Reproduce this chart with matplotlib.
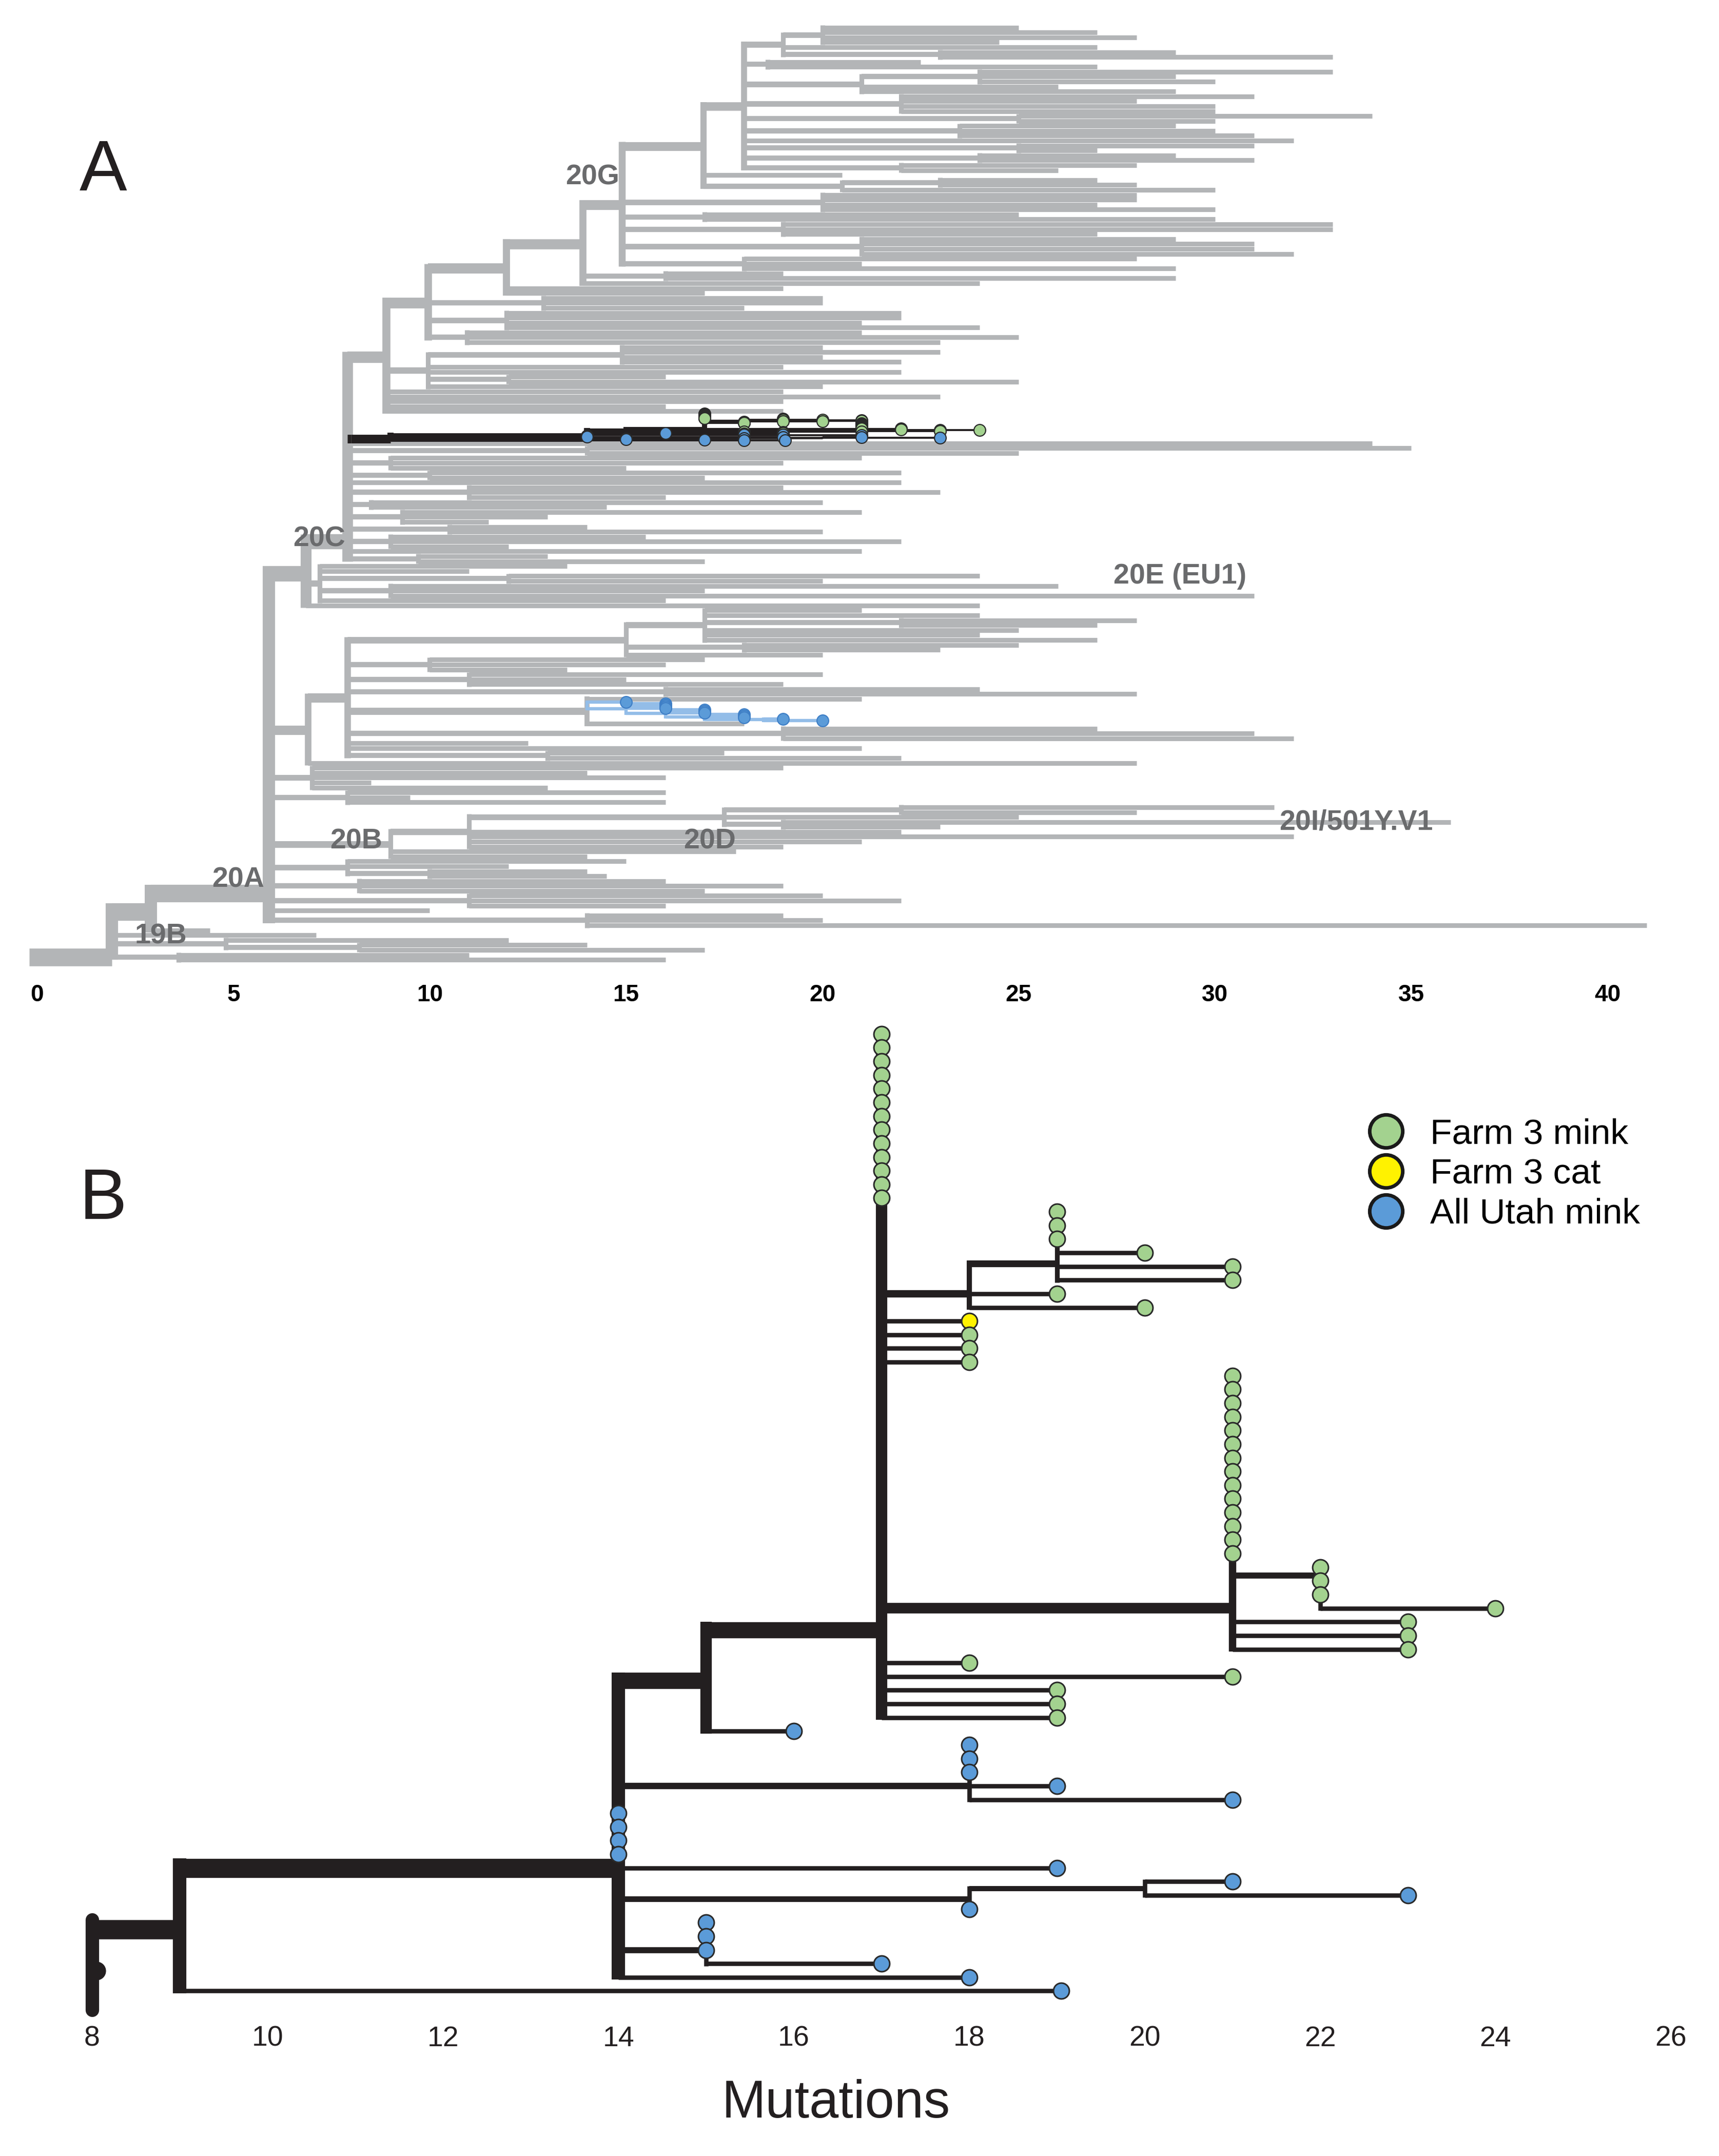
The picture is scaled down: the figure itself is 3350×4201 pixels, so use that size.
import re
import matplotlib
matplotlib.use('Agg')
import matplotlib.pyplot as plt
from matplotlib.collections import LineCollection
from matplotlib.lines import Line2D

plt.rcParams['font.family'] = ['Liberation Sans', 'DejaVu Sans']
NARROW = ['Liberation Sans Narrow', 'Liberation Sans', 'DejaVu Sans']

# ------------------------------------------------------------------ data
# Tree notation: a tip is its position in mutations (+ host code g/y/b);
# an internal node is (children)@mutations ; "~k" = node level with child k.

HOST_CODES = ['g', 'y', 'b']
HOST_LABELS = ['Farm 3 mink', 'Farm 3 cat', 'All Utah mink']
HOST_COLORS = ['#a3d28f', '#fff200', '#5b9bd8']

# ---- Panel B : Utah mink subtree
B_N19 = "(19g,19g,19g,20g,21g,21g)@19~3.8"
B_N18C = "(" + B_N19 + ",19g,20g)@18~1"
B_N22 = "(22g,22g,22g,24g)@22~0.6"
B_N21 = ("(21g,21g,21g,21g,21g,21g,21g,21g,21g,21g,21g,21g,21g,21g,"
         + B_N22 + ",23g,23g,23g)@21~14.7")
B_N17 = ("(17g,17g,17g,17g,17g,17g,17g,17g,17g,17g,17g,17g,17g,"
         + B_N18C + ",18y,18g,18g,18g," + B_N21
         + ",18g,21g,19g,19g,19g)@17~18.4")
B_N15 = "(" + B_N17 + ",16b)@15"
B_N18A = "(18b,18b,18b,19b,21b)@18~3"
B_N20 = "(21b,23b)@20"
B_N18B = "(" + B_N20 + ",18b)@18"
B_N15B = "(15b,15b,15b,17b)@15~2"
B_N14 = ("(" + B_N15 + "," + B_N18A + ",14b,14b,14b,14b,19b,"
         + B_N18B + "," + B_N15B + ",18b)@14~6")
B_N9 = "(" + B_N14 + ",19.05b)@9"
B_ROOT = "(" + B_N9 + ")@8"

# ---- Panel A : global background tree (M = Utah mink subtree, U = second Utah cluster)
A_UTAH = "(15b,(16b,16b,16b,16b,(17b,17b,17b,(18b,18b,18b,(19b,20b)@18.5)@17)@16)@15)@14"
A_CROWN_20G = ("((((25,27,28,24.5)@20,27,(29,33)@23)@19,(22.5,27)@18.6,"
               "((33,29,30)@24,26,29)@21,(31,28,30,30)@22,(34,30)@25,(29,30,31)@23.5,32,"
               "(31,27)@25,(29,31)@24,(28,26)@22)@18,20.5,((27,28)@23,30)@20.5)@16.97")
A_20G = ("(" + A_CROWN_20G + ",(28,28,27,30)@20,(25,30)@17,(33,33,27)@19,"
         "(29,31,31,32)@21,(28,21,29)@18)@14.9")
A_N139 = "(" + A_20G + ",(19,29)@16,24)@13.9"
A_N1195 = "(" + A_N139 + ",19,17)@11.95"
A_N996A = "(" + A_N1195 + ",(20,20,18)@12.9,(22,22,21,24)@11.95,(21,25,23)@10.95)@9.96"
A_N996B = "((20,23,20,22)@14.9,19,22,(16,25)@12,20)@9.96"
A_N89 = "(" + A_N996A + "," + A_N996B + ",19,23,19,16,19)@8.9"
A_20C = ("(" + A_N89 + ",M,34,(35,25)@14,(21,19,15)@9,(22,17)@10,22,(19,23,16)@11,"
         "(20,14.5)@8.5,(21,13,11.5)@9.3,(14,20)@10.5,(15.5,22,12)@9,21,(13,17)@9.7)@7.9~11")
A_20E = "(13.5,11,(24,20)@12,(26,17,31)@9,16)@7.2"
A_N685 = "(" + A_20C + "," + A_20E + ",24)@6.85"
A_MID = ("(((21,24,(28,27)@22,25,24,27)@17,(25,23)@18,20)@15,(17,16,13.5)@10,"
         "(20,15,19)@11,(24,28)@16,(21,U,18)@14,(27,31,32)@19,12.5,21,(17.5,22)@13)@7.9")
A_N69 = "(" + A_MID + ",28)@6.9"
A_G1 = "(19,14,16,8.5,13)@7"
A_G2 = "(16,9.5,16)@7.9"
A_20B = "((((31.5,28)@22,25,(36,23)@19)@17.5,22,32,21,19)@11,17.8,14)@9"
A_G3 = "(15,12,(14,14.5)@10)@7.9"
A_G4 = "(16,19,17)@8.2"
A_G5 = "(20,22,16)@11"
A_G6 = "(19,20,41)@14"
A_20A = ("(" + A_N685 + "," + A_N69 + "," + A_G1 + "," + A_G2 + "," + A_20B + ","
         + A_G3 + "," + A_G4 + "," + A_G5 + ",10," + A_G6 + ")@5.9~6.5")
A_N29 = "(" + A_20A + ",4.4)@2.9"
A_ROOT = "((" + A_N29 + ",7.1,(12,(14,17)@8.2)@4.8,(11,16)@3.6)@1.9~3)@-0.2"

A_TICKS = [0, 5, 10, 15, 20, 25, 30, 35, 40]
B_TICKS = [8, 10, 12, 14, 16, 18, 20, 22, 24, 26]

CLADE_LABELS = ['20G', '20C', '20E (EU1)', '20B', '20D', '20A', '19B', '20I/501Y.V1']
CLADE_POS = [(431, 129), (232, 392), (858, 419), (259, 612), (516, 612),
             (173, 640), (117, 681), (986, 598)]


# ------------------------------------------------------------------ tree helpers
def parse(s):
    s = re.sub(r'\s+', '', s)
    pos = 0

    def node():
        nonlocal pos
        if s[pos] == '(':
            pos += 1
            kids = []
            while True:
                kids.append(node())
                c = s[pos]
                pos += 1
                if c == ')':
                    break
            m = re.match(r'@(-?\d+(?:\.\d+)?)(?:~(\d+(?:\.\d+)?))?', s[pos:])
            pos += m.end()
            return {'x': float(m.group(1)), 'kids': kids,
                    'anchor': float(m.group(2)) if m.group(2) else None}
        m = re.match(r'([A-Z])|(-?\d+(?:\.\d+)?)([a-z]?)', s[pos:])
        pos += m.end()
        if m.group(1):
            return {'ph': m.group(1)}
        return {'x': float(m.group(2)), 'host': m.group(3) or None}
    return node()


def ntips(nd):
    if 'kids' in nd:
        return sum(ntips(k) for k in nd['kids'])
    return 1


def substitute(nd, table):
    if 'ph' in nd:
        sub_s, span, style = table[nd['ph']]
        sub = parse(sub_s)
        sub['span'] = span
        sub['pstyle'] = style
        return sub
    if 'kids' in nd:
        nd['kids'] = [substitute(k, table) for k in nd['kids']]
    return nd


def layout(nd, st, step, style):
    if 'span' in nd:
        style = nd['pstyle']
        n = ntips(nd)
        step = nd['span'] / n
        start = st['cur']
        st['cur'] = start - 0.5 + step / 2
        _lay(nd, st, step, style)
        st['cur'] = start + nd['span']
    else:
        _lay(nd, st, step, style)


def _lay(nd, st, step, style):
    nd['style'] = style
    if 'kids' in nd:
        for k in nd['kids']:
            layout(k, st, step, style)
        ys = [k['y'] for k in nd['kids']]
        a = nd['anchor']
        if a is None:
            y = (ys[0] + ys[-1]) / 2
        else:
            i = int(a)
            f = a - i
            y = ys[i] + f * (ys[i + 1] - ys[i]) if f > 0 else ys[i]
        nd['y'] = y
        nd['n'] = sum(k['n'] for k in nd['kids'])
    else:
        nd['y'] = st['cur']
        st['cur'] += step
        nd['n'] = 1


def collect(nd, px, styles, dpr, segs, tips):
    color, wf = styles[nd['style']]
    if px is not None:
        segs.setdefault(nd['style'], []).append(
            ([(px, nd['y']), (nd['x'], nd['y'])], wf(nd['n'])))
    if 'kids' in nd:
        kids = nd['kids']
        top = min(kids, key=lambda k: k['y'])
        bot = max(kids, key=lambda k: k['y'])
        if bot['y'] > top['y']:
            et = styles[top['style']][1](top['n']) / 2 / dpr
            eb = styles[bot['style']][1](bot['n']) / 2 / dpr
            vw = max(0.7 * wf(nd['n']), styles[nd['style']][1](1))
            segs.setdefault(nd['style'], []).append(
                ([(nd['x'], top['y'] - et), (nd['x'], bot['y'] + eb)], vw))
        for k in kids:
            collect(k, nd['x'], styles, dpr, segs, tips)
    elif nd.get('host'):
        tips.append(nd)


def all_tip_y(nd, acc):
    if 'kids' in nd:
        for k in nd['kids']:
            all_tip_y(k, acc)
    else:
        acc.append(nd['y'])
    return acc


# ------------------------------------------------------------------ figure
W, H = 1250.0, 1568.0                 # layout units of the reference
PT = 3350.0 / W * 0.72                # points per layout unit
fig = plt.figure(figsize=(33.5, 42.01), dpi=100)
fig.patch.set_facecolor('white')


def box(l, t, r, b):
    return [l / W, 1 - b / H, (r - l) / W, (b - t) / H]


def w_black(n):
    return 3.2 + 10.8 * ((n - 1) / 70.0) ** 0.7


def w_gray(n):
    return 2.8 + 0.62 * n ** 0.5


host_color = dict(zip(HOST_CODES, HOST_COLORS))

# ------------------------------ panel A
treeA = substitute(parse(A_ROOT), {'M': (B_ROOT, 5.5, 'black'),
                                   'U': (A_UTAH, 4.0, 'ublue')})
stA = {'cur': 0.0}
layout(treeA, stA, 1.0, 'gray')

ax_l, ax_t, ax_r, ax_b = 10, 10, 1240, 705
axA = fig.add_axes(box(ax_l, ax_t, ax_r, ax_b))
axA.set_xlim((ax_l - 27) / 28.55, (ax_r - 27) / 28.55)

ysA = all_tip_y(treeA, [])
r0, r1 = min(ysA), max(ysA)
dprA = (698 - 20) / (r1 - r0)
axA.set_ylim(r1 + (ax_b - 698) / dprA, r0 - (20 - ax_t) / dprA)

stylesA = {'gray': ('#b3b5b7', w_gray),
           'black': ('#231f20', lambda n: 0.45 * w_black(n)),
           'ublue': ('#93bde8', lambda n: 2.4)}
segsA, tipsA = {}, []
collect(treeA, None, stylesA, dprA, segsA, tipsA)
for z, sname in enumerate(['gray', 'ublue', 'black']):
    if sname in segsA:
        lines = [s for s, w in segsA[sname]]
        widths = [w * PT for s, w in segsA[sname]]
        axA.add_collection(LineCollection(lines, colors=stylesA[sname][0],
                                          linewidths=widths, capstyle='butt',
                                          zorder=2 + z))
for t in tipsA:
    ec = '#3f7fc6' if t['style'] == 'ublue' else '#2a2a2a'
    axA.scatter([t['x']], [t['y']], s=(8.5 * PT) ** 2, c=host_color[t['host']],
                edgecolors=ec, linewidths=1.6, zorder=6)

axA.set_xticks(A_TICKS)
axA.set_xticklabels([str(v) for v in A_TICKS], fontsize=33, fontweight='bold',
                    family=NARROW)
axA.tick_params(axis='x', length=0, pad=20)
axA.set_yticks([])
for sp in axA.spines.values():
    sp.set_visible(False)
axA.patch.set_alpha(0)

# ------------------------------ panel B
treeB = parse(B_ROOT)
stB = {'cur': 0.0}
layout(treeB, stB, 1.0, 'bblack')
ysB = all_tip_y(treeB, [])
q0, q1 = min(ysB), max(ysB)
dprB = (1448 - 752) / (q1 - q0)
bl, bt, br, bb = 20, 735, 1240, 1470
axB = fig.add_axes(box(bl, bt, br, bb))
axB.set_xlim(8 + (bl - 67) / 63.78, 8 + (br - 67) / 63.78)
axB.set_ylim(q1 + (bb - 1448) / dprB, q0 - (752 - bt) / dprB)

stylesB = {'bblack': ('#231f20', w_black)}
segsB, tipsB = {}, []
collect(treeB, None, stylesB, dprB, segsB, tipsB)
linesB = [s for s, w in segsB['bblack']]
widthsB = [w * PT for s, w in segsB['bblack']]
axB.add_collection(LineCollection(linesB, colors='#231f20', linewidths=widthsB,
                                  capstyle='butt', zorder=2))
# root stem with knob
stem_w = 0.7 * w_black(treeB['n'])
axB.plot([treeB['x'], treeB['x']],
         [treeB['y'] - w_black(treeB['n']) / 2 / dprB, q1 + 1.4],
         color='#231f20', lw=stem_w * PT, solid_capstyle='round', zorder=2)
axB.scatter([treeB['x'] + 0.05], [q1 - 1.5], s=(13 * PT) ** 2, c='#231f20', zorder=2)

for t in tipsB:
    axB.scatter([t['x']], [t['y']], s=(11.5 * PT) ** 2, c=host_color[t['host']],
                edgecolors='#2a2a2a', linewidths=2.2, zorder=6)

axB.set_xticks(B_TICKS)
axB.set_xticklabels([str(v) for v in B_TICKS], fontsize=40, family=NARROW,
                    color='#231f20')
axB.tick_params(axis='x', length=0, pad=6)
axB.set_yticks([])
for sp in axB.spines.values():
    sp.set_visible(False)
axB.patch.set_alpha(0)

handles = [Line2D([], [], ls='none', marker='o', markersize=24 * PT,
                  markerfacecolor=c, markeredgecolor='#1a1a1a', markeredgewidth=5)
           for c in HOST_COLORS]
fig.legend(handles, HOST_LABELS, loc='upper left',
           bbox_to_anchor=(995 / W, 1 - 813 / H), frameon=False, fontsize=50,
           handlelength=1.0, handletextpad=0.74, labelspacing=0.2,
           borderpad=0, borderaxespad=0)

# ------------------------------ texts
fig.text(75 / W, 1 - 125 / H, 'A', fontsize=100, ha='center', va='center', color='#231f20')
fig.text(75 / W, 1 - 873 / H, 'B', fontsize=100, ha='center', va='center', color='#231f20')
fig.text(608 / W, 1 - 1530 / H, 'Mutations', fontsize=74, ha='center', va='center',
         color='#231f20')
for lab, (px, py) in zip(CLADE_LABELS, CLADE_POS):
    fig.text(px / W, 1 - py / H, lab, fontsize=40, fontweight='bold', family=NARROW,
             ha='center', va='center', color='#6a6b6d', zorder=10)

fig.savefig('out.png', dpi=100, facecolor='white')
